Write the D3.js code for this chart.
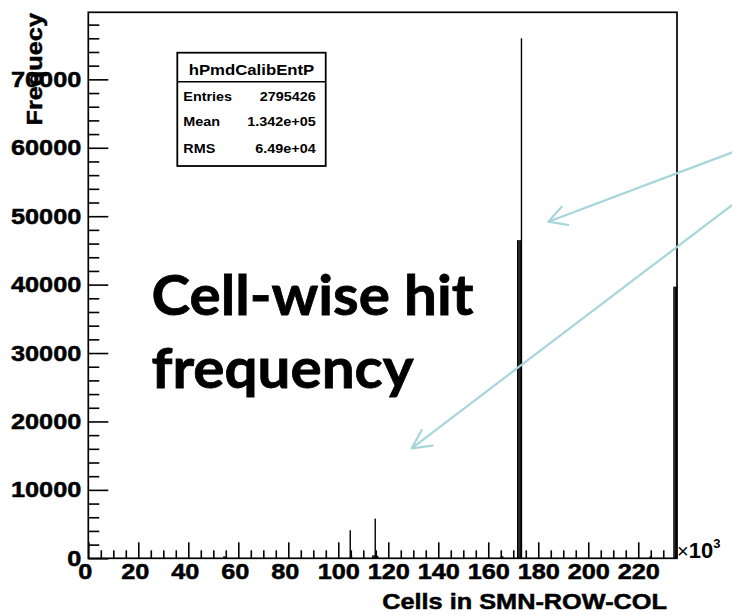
<!DOCTYPE html>
<html>
<head>
<meta charset="utf-8">
<script src="https://cdn.jsdelivr.net/npm/d3@7"></script>
<style>
  html, body { margin: 0; padding: 0; background: #fff; }
  svg { display: block; }
</style>
</head>
<body>
<svg id="chart" width="732" height="615"></svg>
<script>
// ---- data (x in units of 10^3 cells) ----
const binCenters = [54.25, 54.75, 104.75, 105.25, 113.75, 114.25, 114.75, 115.25, 115.75,
                    165.25, 165.75, 171.75, 172.25, 172.75, 173.25, 224.75, 234.25, 234.75, 235.25];
const binCounts  = [300, 250, 4100, 350, 400, 450, 5800, 450, 350,
                    300, 300, 46500, 46500, 46500, 76000, 300, 39700, 39700, 39700];
const binWidth = 0.5;
const xMajorTicks = [0, 20, 40, 60, 80, 100, 120, 140, 160, 180, 200, 220];
const yMajorTicks = [0, 10000, 20000, 30000, 40000, 50000, 60000, 70000];
const statLabels = ["Entries", "Mean", "RMS"];
const statValues = ["2795426", "1.342e+05", "6.49e+04"];
const histName = "hPmdCalibEntP";
const xTitle = "Cells in SMN-ROW-COL";
const yTitle = "Frequecy";
const noteLines = ["Cell-wise hit", "frequency"];

const xDomain = [0, 235.5];
const yDomain = [0, 79800];

const svg = d3.select("#chart");
const FONT = "'Liberation Sans', Arial, Helvetica, sans-serif";
const STRETCH = 1.15;

const x = d3.scaleLinear().domain(xDomain).range([88.3, 677]);
const y = d3.scaleLinear().domain(yDomain).range([558.3, 12.3]);

function stretchText(sel, factor) {
  sel.each(function () {
    const w = this.getComputedTextLength();
    d3.select(this).attr("textLength", w * factor).attr("lengthAdjust", "spacingAndGlyphs");
  });
}
function heavy(sel, w) {
  sel.attr("stroke", "#000").attr("stroke-width", w).attr("paint-order", "stroke");
}

// ---- histogram bins ----
svg.append("g").selectAll("rect")
  .data(binCenters.map((c, i) => ({ c, n: binCounts[i] })))
  .join("rect")
  .attr("x", d => x(d.c - binWidth / 2))
  .attr("width", d => Math.max(1.4, x(d.c + binWidth / 2) - x(d.c - binWidth / 2)))
  .attr("y", d => y(d.n))
  .attr("height", d => y(0) - y(d.n))
  .attr("fill", "#000");

// ---- axes ----
const yMinor = d3.range(0, 79800, 2000).filter(v => v % 10000 !== 0);
const xMinor = d3.range(0, 236, 5).filter(v => v % 20 !== 0);

const gyMinor = svg.append("g").attr("transform", `translate(${x(0)},0)`)
  .call(d3.axisLeft(y).tickValues(yMinor).tickSizeInner(-11).tickSizeOuter(0).tickFormat(""));
const gy = svg.append("g").attr("transform", `translate(${x(0)},0)`)
  .call(d3.axisLeft(y).tickValues(yMajorTicks).tickSizeInner(-20).tickSizeOuter(0).tickPadding(7).tickFormat(d3.format("d")));
const gxMinor = svg.append("g").attr("transform", `translate(0,${y(0)})`)
  .call(d3.axisBottom(x).tickValues(xMinor).tickSizeInner(-8).tickSizeOuter(0).tickFormat(""));
const gx = svg.append("g").attr("transform", `translate(0,${y(0)})`)
  .call(d3.axisBottom(x).tickValues(xMajorTicks).tickSizeInner(-16).tickSizeOuter(0).tickPadding(5.5).tickFormat(d3.format("d")));

[gy, gx, gyMinor, gxMinor].forEach(g => {
  g.select(".domain").remove();
  g.selectAll(".tick line").attr("stroke", "#000").attr("stroke-width", 1.6);
  g.selectAll("text").attr("font-family", FONT).attr("font-size", 22).attr("font-weight", "bold").attr("fill", "#000");
});
gx.selectAll(".tick text").attr("dx", d => String(d).length < 3 ? -3.5 : 0);
stretchText(gy.selectAll(".tick text"), STRETCH);
stretchText(gx.selectAll(".tick text"), STRETCH);
heavy(gy.selectAll(".tick text"), 0.5);
heavy(gx.selectAll(".tick text"), 0.5);

// ---- frame ----
svg.append("rect")
  .attr("x", x(0)).attr("y", y(yDomain[1]))
  .attr("width", x(xDomain[1]) - x(0)).attr("height", y(0) - y(yDomain[1]))
  .attr("fill", "none").attr("stroke", "#000").attr("stroke-width", 1.7);

// ---- axis titles ----
const xt = svg.append("text")
  .attr("x", 667).attr("y", 609).attr("text-anchor", "end")
  .attr("font-family", FONT).attr("font-size", 22).attr("font-weight", "bold").text(xTitle);
stretchText(xt, STRETCH);
heavy(xt, 0.5);

const yt = svg.append("text")
  .attr("transform", "translate(42,13) rotate(-90)").attr("text-anchor", "end")
  .attr("font-family", FONT).attr("font-size", 22).attr("font-weight", "bold").text(yTitle);
stretchText(yt, STRETCH);
heavy(yt, 0.5);

// ×10^3 exponent marker
const ex = svg.append("text").attr("x", 677).attr("y", 558).attr("font-family", FONT).attr("fill", "#000");
ex.append("tspan").attr("font-size", 20).text("\u00d7");
ex.append("tspan").attr("font-size", 22).attr("font-weight", "bold").text("10");
ex.append("tspan").attr("font-size", 13).attr("font-weight", "bold").attr("dy", -10).text("3");

// ---- stats box ----
const sb = svg.append("g");
sb.append("rect").attr("x", 177.3).attr("y", 52.7).attr("width", 148.4).attr("height", 113.3)
  .attr("fill", "#fff").attr("stroke", "#000").attr("stroke-width", 1.8);
sb.append("line").attr("x1", 177.3).attr("x2", 325.7).attr("y1", 81.7).attr("y2", 81.7)
  .attr("stroke", "#000").attr("stroke-width", 1.5);
const st = sb.append("text").attr("x", 251.5).attr("y", 74.5).attr("text-anchor", "middle")
  .attr("font-family", FONT).attr("font-size", 15.5).attr("font-weight", "bold").text(histName);
stretchText(st, 1.08);
const rowY = [101.3, 126.3, 152.8];
statLabels.forEach((lab, i) => {
  const a = sb.append("text").attr("x", 183.3).attr("y", rowY[i])
    .attr("font-family", FONT).attr("font-size", 12.5).attr("font-weight", "bold").text(lab);
  stretchText(a, STRETCH);
  const b = sb.append("text").attr("x", 315.7).attr("y", rowY[i]).attr("text-anchor", "end")
    .attr("font-family", FONT).attr("font-size", 12.5).attr("font-weight", "bold").text(statValues[i]);
  stretchText(b, STRETCH);
});

// ---- annotation ----
const noteY = [315, 388];
const noteW = [322, 262];
noteLines.forEach((t, i) => {
  const n = svg.append("text").attr("x", 151.5).attr("y", noteY[i])
    .attr("font-family", "Lato, 'Open Sans', sans-serif").attr("font-size", 56).attr("font-weight", "bold")
    .attr("fill", "#000")
    .attr("textLength", noteW[i]).attr("lengthAdjust", "spacingAndGlyphs")
    .text(t);
  heavy(n, 0.8);
});

const arrowColor = "#a6d5da";
const arrows = [
  { from: [740, 149.5], tip: [548.3, 221.7], b1: [561.7, 206.7], b2: [568.3, 225.0] },
  { from: [740, 199.1], tip: [411.7, 448.3], b1: [421.7, 430.0], b2: [432.7, 445.7] }
];
arrows.forEach(a => {
  svg.append("line").attr("x1", a.from[0]).attr("y1", a.from[1]).attr("x2", a.tip[0]).attr("y2", a.tip[1])
    .attr("stroke", arrowColor).attr("stroke-width", 2.2);
  svg.append("path").attr("d", d3.line()([a.b1, a.tip, a.b2]))
    .attr("fill", "none").attr("stroke", arrowColor).attr("stroke-width", 2.2)
    .attr("stroke-linejoin", "round").attr("stroke-linecap", "round");
});
</script>
</body>
</html>
